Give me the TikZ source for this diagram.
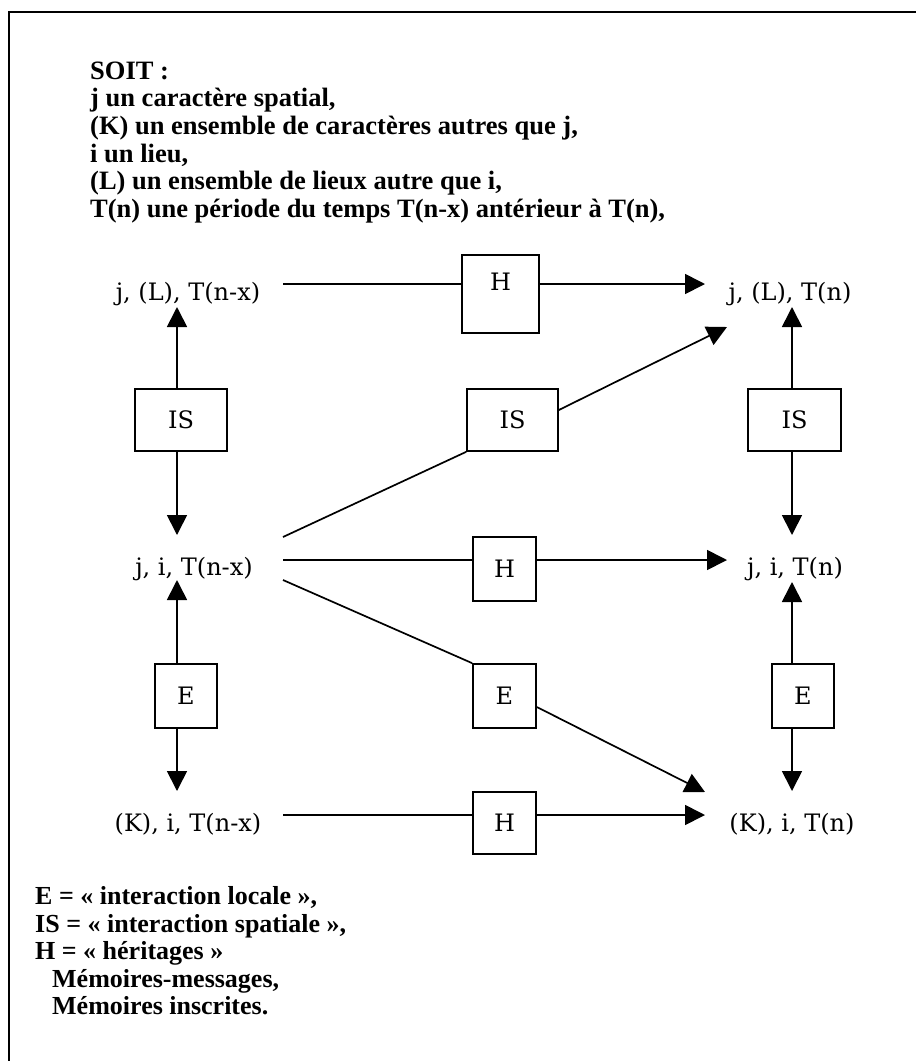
\documentclass[tikz,border=0pt]{standalone}
\usepackage{fontspec}
\setmainfont{Liberation Serif}
\newfontfamily\diagfont{DejaVu Serif}
\usetikzlibrary{arrows.meta}
\begin{document}
\begin{tikzpicture}[x=1pt,y=-1pt,
  toptext/.style={font=\bfseries\fontsize{26.5}{28}\selectfont, inner sep=0pt, anchor=base west},
  bottext/.style={font=\bfseries\fontsize{26}{28}\selectfont, inner sep=0pt, anchor=base west},
  lbl/.style={font=\diagfont\fontsize{24}{28}\selectfont, inner sep=0pt, anchor=base},
  opbox/.style={draw, line width=1.7pt, font=\diagfont\fontsize{24}{28}\selectfont, inner sep=0pt, text height=17pt, text depth=0pt},
  link/.style={line width=1.7pt},
  arr/.style={line width=1.7pt, -{Triangle[length=20pt,width=20pt]}},
]
\useasboundingbox (0,0) rectangle (916,1061);
\draw[line width=2.5pt] (9,1061) -- (9,12) -- (916,12);

% top text
\node[toptext] (t1) at (90,79) {SOIT :};
\node[toptext] (t2) at (90,106.5) {j un caractère spatial,};
\node[toptext] (t3) at (90,134) {(K) un ensemble de caractères autres que j,};
\node[toptext] (t4) at (90,162) {i un lieu,};
\node[toptext] (t5) at (90,189.5) {(L) un ensemble de lieux autre que i,};
\node[toptext] (t6) at (90,217) {T(n) une période du temps T(n-x) antérieur à T(n),};

% labels
\node[lbl] (A1) at (188,300) {j, (L), T(n-x)};
\node[lbl] (B1) at (790,300) {j, (L), T(n)};
\node[lbl] (A2) at (194,575) {j, i, T(n-x)};
\node[lbl] (B2) at (795,575) {j, i, T(n)};
\node[lbl] (A3) at (188,831) {(K), i, T(n-x)};
\node[lbl] (B3) at (792,831) {(K), i, T(n)};

% boxes
\node[opbox, minimum width=77pt, minimum height=78pt, text depth=24pt] (H1) at (500.5,294) {H};
\node[opbox, minimum width=92pt, minimum height=62pt] (IS1) at (181,420) {IS};
\node[opbox, minimum width=91pt, minimum height=62pt] (IS2) at (512.5,420) {IS};
\node[opbox, minimum width=93pt, minimum height=62pt] (IS3) at (794.5,420) {IS};
\node[opbox, minimum width=63pt, minimum height=64pt] (H2) at (504.5,569) {H};
\node[opbox, minimum width=62pt, minimum height=64pt] (E1) at (186,696) {E};
\node[opbox, minimum width=63pt, minimum height=64pt] (E2) at (504.5,696) {E};
\node[opbox, minimum width=62pt, minimum height=64pt] (E3) at (803,696) {E};
\node[opbox, minimum width=63pt, minimum height=62pt] (H3) at (504.5,823) {H};

% connector end points
\coordinate (r1s) at (283,284);
\coordinate (r1e) at (705,284);
\coordinate (r2s) at (283,560);
\coordinate (r2e) at (727,560);
\coordinate (r3s) at (283,815);
\coordinate (r3e) at (705,815);
\coordinate (lt1) at (177,307);
\coordinate (lt2) at (177,535);
\coordinate (lt3) at (177,580);
\coordinate (lt4) at (177,791);
\coordinate (rt1) at (792,307);
\coordinate (rt2) at (792,535);
\coordinate (rt3) at (792,582);
\coordinate (rt4) at (792,791);
\coordinate (d1s) at (283,537);
\coordinate (d1e) at (727,327);
\coordinate (d2s) at (283,580);
\coordinate (d2e) at (705,792);

% horizontal
\draw[link] (r1s) -- (r1s -| H1.west);
\draw[arr] (r1s -| H1.east) -- (r1e);
\draw[link] (r2s) -- (r2s -| H2.west);
\draw[arr] (r2s -| H2.east) -- (r2e);
\draw[link] (r3s) -- (r3s -| H3.west);
\draw[arr] (r3s -| H3.east) -- (r3e);

% verticals left
\draw[arr] (IS1.north -| lt1) -- (lt1);
\draw[arr] (IS1.south -| lt2) -- (lt2);
\draw[arr] (E1.north -| lt3) -- (lt3);
\draw[arr] (E1.south -| lt4) -- (lt4);
% verticals right
\draw[arr] (IS3.north -| rt1) -- (rt1);
\draw[arr] (IS3.south -| rt2) -- (rt2);
\draw[arr] (E3.north -| rt3) -- (rt3);
\draw[arr] (E3.south -| rt4) -- (rt4);

% diagonals
\draw[link] (d1s) -- (IS2.south west);
\draw[arr] ([yshift=10pt]IS2.east) -- (d1e);
\draw[link] (d2s) -- (E2.north west);
\draw[arr] ([yshift=-11pt]E2.east) -- (d2e);

% bottom text
\node[bottext] (b1) at (35,904) {E = « interaction locale »,};
\node[bottext] (b2) at (35,932) {IS = « interaction spatiale »,};
\node[bottext] (b3) at (35,959.5) {H = « héritages »};
\node[bottext] (b4) at (52,987) {Mémoires-messages,};
\node[bottext] (b5) at (52,1014.5) {Mémoires inscrites.};
\end{tikzpicture}
\end{document}
